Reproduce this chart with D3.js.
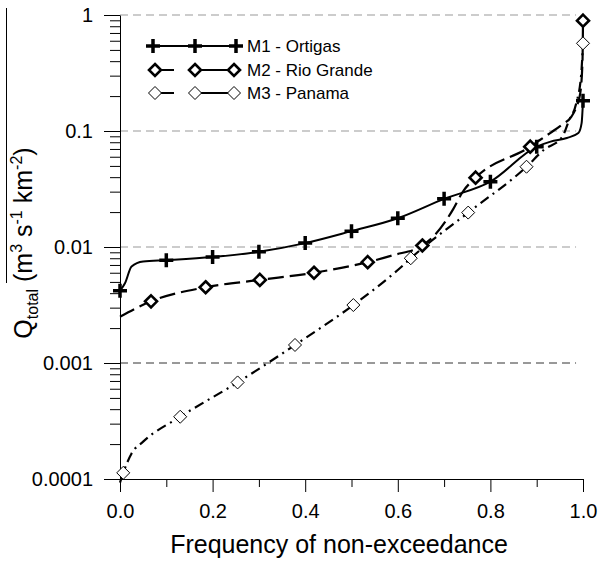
<!DOCTYPE html>
<html>
<head>
<meta charset="utf-8">
<script src="https://cdn.jsdelivr.net/npm/d3@7"></script>
<style>
  body { margin: 0; background: #fff; }
  text { font-family: Arial, "Liberation Sans", sans-serif; }
</style>
</head>
<body>
<script>
const width = 599,
  height = 562;

// series curves: frequency of non-exceedance vs Q
const m1Freq = [0, 0.011, 0.025, 0.05, 0.1, 0.2, 0.3, 0.4, 0.5, 0.6, 0.7, 0.8, 0.9, 0.93, 0.965, 0.99, 0.997, 1.0];
const m1Q = [0.0042, 0.0049, 0.0068, 0.0075, 0.0077, 0.0082, 0.0091, 0.0108, 0.0137, 0.0177, 0.026, 0.0366, 0.0733, 0.081, 0.087, 0.096, 0.117, 0.182];

const m2Freq = [0, 0.067, 0.185, 0.302, 0.419, 0.535, 0.59, 0.653, 0.68, 0.72, 0.74, 0.768, 0.886, 0.907, 0.929, 0.954, 0.975, 0.986, 0.994, 0.999, 1.0];
const m2Q = [0.0025, 0.0034, 0.0045, 0.0052, 0.006, 0.0074, 0.0085, 0.0103, 0.0127, 0.0213, 0.0298, 0.0396, 0.0733, 0.0836, 0.096, 0.113, 0.133, 0.162, 0.211, 0.41, 0.893];

const m3Freq = [0, 0.007, 0.025, 0.05, 0.13, 0.254, 0.378, 0.504, 0.583, 0.608, 0.628, 0.752, 0.878, 0.915, 0.955, 0.97, 0.985, 0.996, 1.0];
const m3Q = [0.000093, 0.000113, 0.000166, 0.00021, 0.000344, 0.00068, 0.00143, 0.00316, 0.00555, 0.00676, 0.008, 0.0198, 0.0492, 0.0686, 0.0887, 0.124, 0.171, 0.304, 0.57];

// marker positions
const m1MarkFreq = [0, 0.1, 0.2, 0.3, 0.4, 0.5, 0.6, 0.7, 0.8, 0.9, 1.0];
const m1MarkQ = [0.0042, 0.0077, 0.0082, 0.0091, 0.0108, 0.0137, 0.0177, 0.026, 0.0366, 0.0733, 0.182];
const m2MarkFreq = [0.067, 0.185, 0.302, 0.419, 0.535, 0.653, 0.768, 0.886, 1.0];
const m2MarkQ = [0.0034, 0.0045, 0.0052, 0.006, 0.0074, 0.0103, 0.0396, 0.0733, 0.893];
const m3MarkFreq = [0.007, 0.13, 0.254, 0.378, 0.504, 0.628, 0.752, 0.878, 1.0];
const m3MarkQ = [0.000113, 0.000344, 0.00068, 0.00143, 0.00316, 0.008, 0.0198, 0.0492, 0.57];

const seriesNames = ["M1 - Ortigas", "M2 - Rio Grande", "M3 - Panama"];

// tick labels
const yTicks = [0.0001, 0.001, 0.01, 0.1, 1];
const yTickLabels = ["0.0001", "0.001", "0.01", "0.1", "1"];
const xTicks = [0, 0.2, 0.4, 0.6, 0.8, 1.0];
const xTickLabels = ["0.0", "0.2", "0.4", "0.6", "0.8", "1.0"];
const xMinor = [0.1, 0.3, 0.5, 0.7, 0.9];
const gridValues = [1, 0.1, 0.01, 0.001];

const x = d3.scaleLinear().domain([0, 1]).range([120, 583]);
const y = d3.scaleLog().domain([0.0001, 1]).range([479, 15]);

const svg = d3
  .select("body")
  .append("svg")
  .attr("width", width)
  .attr("height", height);

// dashed horizontal gridlines
svg
  .selectAll("line.grid")
  .data(gridValues)
  .join("line")
  .attr("class", "grid")
  .attr("x1", x(0))
  .attr("x2", x(0.985))
  .attr("y1", (d) => y(d))
  .attr("y2", (d) => y(d))
  .attr("stroke", (d) => (d === 0.001 ? "#333" : "#999"))
  .attr("stroke-width", 1)
  .attr("stroke-dasharray", "8,5");

// minor y ticks (2..9 in each decade)
const yMinor = [];
[0.0001, 0.001, 0.01, 0.1].forEach((dec) => {
  for (let k = 2; k <= 9; k++) yMinor.push(dec * k);
});

svg
  .append("g")
  .attr("transform", "translate(120,0)")
  .call(d3.axisLeft(y).tickValues(yMinor).tickSize(10).tickSizeOuter(0).tickFormat(""))
  .call((g) => g.select(".domain").remove());

svg
  .append("g")
  .attr("transform", "translate(120,0)")
  .call(
    d3
      .axisLeft(y)
      .tickValues(yTicks)
      .tickSize(16)
      .tickSizeOuter(0)
      .tickPadding(11)
      .tickFormat((d, i) => yTickLabels[i])
  )
  .call((g) => g.selectAll("text").attr("font-size", 20).attr("font-family", null).attr("fill", "#000"));

svg
  .append("g")
  .attr("transform", "translate(0,479)")
  .call(d3.axisBottom(x).tickValues(xMinor).tickSize(8).tickSizeOuter(0).tickFormat(""))
  .call((g) => g.select(".domain").remove());

svg
  .append("g")
  .attr("transform", "translate(0,479)")
  .call(
    d3
      .axisBottom(x)
      .tickValues(xTicks)
      .tickSize(13)
      .tickSizeOuter(0)
      .tickPadding(12)
      .tickFormat((d, i) => xTickLabels[i])
  )
  .call((g) => g.selectAll("text").attr("font-size", 20).attr("font-family", null).attr("fill", "#000"));

svg.selectAll(".tick line, .domain").attr("stroke", "#000");

// axis titles
svg
  .append("text")
  .attr("x", 339)
  .attr("y", 553)
  .attr("text-anchor", "middle")
  .attr("font-size", 25)
  .text("Frequency of non-exceedance");

const yTitle = svg
  .append("text")
  .attr("transform", "translate(32,243) rotate(-90)")
  .attr("text-anchor", "middle")
  .attr("font-size", 25);
yTitle.append("tspan").text("Q");
yTitle.append("tspan").attr("font-size", 16).attr("dy", 6).text("total");
yTitle.append("tspan").attr("dy", -6).text(" (m");
yTitle.append("tspan").attr("font-size", 16).attr("dy", -10).text("3");
yTitle.append("tspan").attr("dy", 10).text(" s");
yTitle.append("tspan").attr("font-size", 16).attr("dy", -10).text("-1");
yTitle.append("tspan").attr("dy", 10).text(" km");
yTitle.append("tspan").attr("font-size", 16).attr("dy", -10).text("-2");
yTitle.append("tspan").attr("dy", 10).text(")");

// the overline drawn above the label
svg
  .append("line")
  .attr("x1", 6.5)
  .attr("x2", 6.5)
  .attr("y1", 8)
  .attr("y2", 283)
  .attr("stroke", "#000")
  .attr("stroke-width", 1);

// curves
const line = d3
  .line()
  .x((d) => x(d[0]))
  .y((d) => y(d[1]))
  .curve(d3.curveMonotoneX);

const styles = [
  { dash: null, width: 2 },
  { dash: "16,6", width: 2.2 },
  { dash: "10,5,2,5", width: 2.2 },
];

const curves = [
  d3.zip(m1Freq, m1Q),
  d3.zip(m2Freq, m2Q),
  d3.zip(m3Freq, m3Q),
];

curves.forEach((pts, i) => {
  svg
    .append("path")
    .datum(pts)
    .attr("fill", "none")
    .attr("stroke", "#000")
    .attr("stroke-width", styles[i].width)
    .attr("stroke-dasharray", styles[i].dash)
    .attr("d", line);
});

// marker drawing helpers
function plusMark(g, cx, cy) {
  g.append("path")
    .attr("d", `M${cx - 7},${cy}H${cx + 7}M${cx},${cy - 7}V${cy + 7}`)
    .attr("stroke", "#000")
    .attr("stroke-width", 3.5)
    .attr("fill", "none");
}
function diamondMark(g, cx, cy, bold) {
  const r = bold ? 6 : 6.5;
  g.append("path")
    .attr("d", `M${cx},${cy - r}L${cx + r},${cy}L${cx},${cy + r}L${cx - r},${cy}Z`)
    .attr("stroke", "#000")
    .attr("stroke-width", bold ? 2.6 : 1)
    .attr("fill", "#fff");
}

const marks = svg.append("g");
d3.zip(m1MarkFreq, m1MarkQ).forEach((d) => plusMark(marks, x(d[0]), y(d[1])));
d3.zip(m2MarkFreq, m2MarkQ).forEach((d) => diamondMark(marks, x(d[0]), y(d[1]), true));
d3.zip(m3MarkFreq, m3MarkQ).forEach((d) => diamondMark(marks, x(d[0]), y(d[1]), false));

// legend
const legend = svg.append("g");
const legendY = [46, 70, 93];
seriesNames.forEach((name, i) => {
  const ly = legendY[i];
  if (i === 0) {
    legend.append("line").attr("x1", 153).attr("x2", 236).attr("y1", ly).attr("y2", ly)
      .attr("stroke", "#000").attr("stroke-width", 2);
    [153, 195, 236].forEach((lx) => plusMark(legend, lx, ly));
  } else {
    legend.append("line").attr("x1", 153).attr("x2", 174).attr("y1", ly).attr("y2", ly)
      .attr("stroke", "#000").attr("stroke-width", 2);
    legend.append("line").attr("x1", 201).attr("x2", 236).attr("y1", ly).attr("y2", ly)
      .attr("stroke", "#000").attr("stroke-width", 2);
    [155, 195, 234].forEach((lx) => diamondMark(legend, lx, ly, i === 1));
  }
  legend
    .append("text")
    .attr("x", 247)
    .attr("y", ly + 6)
    .attr("font-size", 17)
    .text(name);
});
</script>
</body>
</html>
